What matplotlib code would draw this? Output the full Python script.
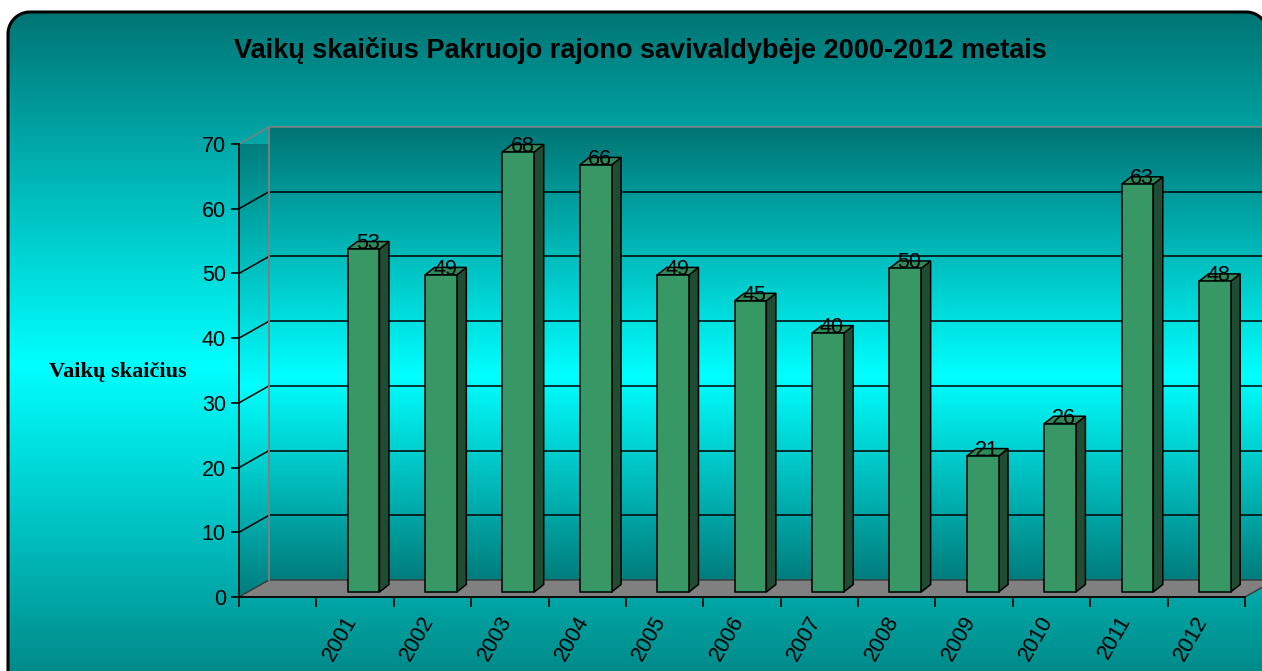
import numpy as np
import matplotlib
matplotlib.use('Agg')
import matplotlib.pyplot as plt
from matplotlib.transforms import ScaledTranslation, IdentityTransform
from matplotlib.patches import Polygon

# ---------------- data ----------------
categories = ['', '2001', '2002', '2003', '2004', '2005', '2006',
              '2007', '2008', '2009', '2010', '2011', '2012']
values = [None, 53, 49, 68, 66, 49, 45, 40, 50, 21, 26, 63, 48]
y_ticks = [0, 10, 20, 30, 40, 50, 60, 70]
title = 'Vaikų skaičius Pakruojo rajono savivaldybėje 2000-2012 metais'
ylabel = 'Vaikų skaičius'

plt.rcParams['font.family'] = ['Liberation Sans', 'DejaVu Sans']

W, H = 1262, 671
DPI = 100
FS = 15.5
fig = plt.figure(figsize=(W / DPI, H / DPI), dpi=DPI)
fig.patch.set_facecolor('white')

DARK = np.array([0.0, 0.455, 0.455])
CYAN = np.array([0.0, 1.0, 1.0])


def grad_rows(n, frac_peak, bottom_dark=DARK):
    rows = np.zeros((n, 1, 3))
    for i in range(n):
        f = i / (n - 1)
        if f <= frac_peak:
            t = f / frac_peak
            c = DARK + t * (CYAN - DARK)
        else:
            t = (f - frac_peak) / (1 - frac_peak)
            c = CYAN + t * (bottom_dark - CYAN)
        rows[i, 0] = c
    return rows


# ---------------- chart area background (rounded frame) ----------------
bg = fig.add_axes([0, 0, 1, 1])
bg.axis('off')
area_l, area_r, area_top, area_bot = 8, 1268, 12, 730
R = 22
ang = np.linspace(0, np.pi / 2, 20)
frame_pts = []
for a in ang:
    frame_pts.append((area_l + R - R * np.cos(a), area_top + R - R * np.sin(a)))
for a in ang[::-1]:
    frame_pts.append((area_r - R + R * np.cos(a), area_top + R - R * np.sin(a)))
frame_pts.append((area_r, area_bot))
frame_pts.append((area_l, area_bot))
frame = Polygon(frame_pts, closed=True, fc='none', ec='black', lw=2.2, zorder=3)
bg.add_patch(frame)
img = grad_rows(area_bot - area_top, (365 - area_top) / (area_bot - area_top))
im = bg.imshow(img, extent=(area_l, area_r, area_bot, area_top), aspect='auto',
               interpolation='bilinear', zorder=1)
im.set_clip_path(frame)
bg.set_xlim(0, W)
bg.set_ylim(H, 0)

# ---------------- main axes (front plane) ----------------
x0, x1 = 239, 1245
y0, y1 = 597, 144
ax = fig.add_axes([x0 / W, (H - y0) / H, (x1 - x0) / W, (y0 - y1) / H])
ax.patch.set_visible(False)
n = len(categories)
ax.set_xlim(0, n)
ax.set_ylim(0, 70)

WALL = (30, 17)
BAR_F = (8.5, 5)
BAR_B = (18, 12.5)


def off(dx, dy):
    return ax.transData + ScaledTranslation(dx / DPI, dy / DPI, fig.dpi_scale_trans)


def P(x, v, d):
    px, py = ax.transData.transform((x, v))
    return (px + d[0], py + d[1])


ident = IdentityTransform()


def add_poly(pts, **kw):
    p = Polygon(pts, closed=True, transform=ident, **kw)
    ax.add_patch(p)
    p.set_clip_on(False)
    return p


# back wall gradient
wall_img = grad_rows(200, 0.55, bottom_dark=np.array([0.0, 0.49, 0.49]))
ax.imshow(wall_img, extent=(0, n + 1, 0, 70), transform=off(*WALL),
          aspect='auto', interpolation='bilinear', zorder=0.5, clip_on=False)

# side wall gradient clipped to parallelogram
side = Polygon([P(0, 0, (0, 0)), P(0, 0, WALL), P(0, 70, WALL), P(0, 70, (0, 0))],
               closed=True, transform=ident, fc='none', ec='none')
sx = WALL[0] / (ax.transData.transform((1, 0))[0] - ax.transData.transform((0, 0))[0])
sy = WALL[1] / (ax.transData.transform((0, 1))[1] - ax.transData.transform((0, 0))[1])
sim = ax.imshow(wall_img, extent=(0, sx, 0, 70 + sy), aspect='auto',
                interpolation='bilinear', zorder=0.5)
sim.set_clip_path(side)
sim.set_clip_box(None)

# floor
add_poly([P(0, 0, (0, 0)), P(n, 0, (0, 0)), P(n, 0, WALL), P(0, 0, WALL)],
         fc='#808080', ec='#3a3a3a', lw=1, zorder=1)

# gridlines: back wall and side wall
for v in y_ticks[1:]:
    col = '#808080' if v == 70 else 'black'
    ax.plot([0, n + 1], [v, v], color=col, lw=1.1, transform=off(*WALL),
            zorder=1.2, clip_on=False)
    a, b = P(0, v, (0, 0)), P(0, v, WALL)
    ax.plot([a[0], b[0]], [a[1], b[1]], color=col, lw=1.1, transform=ident,
            zorder=1.2, clip_on=False)
ax.plot([0, 0], [0, 70], color='#808080', lw=1.3, transform=off(*WALL),
        zorder=1.3, clip_on=False)

# ---------------- bars ----------------
FRONT = '#379865'
SIDE = '#1f4d34'
TOP = '#2f8a5b'
bw = 0.41
xs = [i + 0.5 for i, v in enumerate(values) if v is not None]
vs = [v for v in values if v is not None]
ax.bar(xs, vs, width=bw, color=FRONT, edgecolor='black', lw=1.1,
       transform=off(*BAR_F), zorder=3, clip_on=False)
for x, v in zip(xs, vs):
    xl, xr = x - bw / 2, x + bw / 2
    add_poly([P(xr, 0, BAR_F), P(xr, 0, BAR_B), P(xr, v, BAR_B), P(xr, v, BAR_F)],
             fc=SIDE, ec='black', lw=1.1, zorder=2.9)
    add_poly([P(xl, v, BAR_F), P(xr, v, BAR_F), P(xr, v, BAR_B), P(xl, v, BAR_B)],
             fc=TOP, ec='black', lw=1.1, zorder=2.9)
    ax.text(x, v, str(v), transform=off(12.5, 5), ha='center', va='baseline',
            fontsize=FS, color='black', zorder=5, clip_on=False)

ax.set_xlim(0, n)
ax.set_ylim(0, 70)

# ---------------- axes decoration ----------------
for s in ['top', 'right']:
    ax.spines[s].set_visible(False)
for s in ['left', 'bottom']:
    ax.spines[s].set_color('black')
    ax.spines[s].set_linewidth(1.2)
    ax.spines[s].set_zorder(2.5)
ax.set_yticks(y_ticks)
ax.set_yticklabels([str(t) for t in y_ticks])
ax.tick_params(axis='y', direction='out', length=6, width=1.2, color='black',
               labelsize=FS, pad=3.5)
ax.set_xticks(range(n + 1))
ax.set_xticklabels([])
ax.tick_params(axis='x', which='major', direction='out', length=7, width=1.2,
               color='black')
for i, lab in enumerate(categories):
    ax.text(i + 0.5, 0, lab, transform=off(6, -15), rotation=60,
            ha='right', va='top', fontsize=FS, color='black', clip_on=False)

fig.text(640 / W, 1 - 50 / H, title, ha='center', va='center',
         fontsize=19.5, fontweight='bold', color='black')
fig.text(118 / W, 1 - 372 / H, ylabel, ha='center', va='center',
         fontsize=16, fontweight='bold', family=['Liberation Serif', 'DejaVu Serif'],
         color='black')

fig.savefig('out.png', dpi=DPI, facecolor='white')
